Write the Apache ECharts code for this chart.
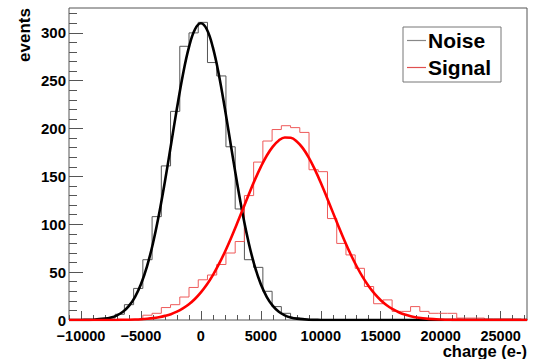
<!DOCTYPE html>
<html><head><meta charset="utf-8">
<script src="https://cdn.jsdelivr.net/npm/echarts@6/dist/echarts.min.js"></script>
<style>html,body{margin:0;padding:0;background:#fff}#c{width:533px;height:359px}</style>
</head><body><div id="c"></div>
<script>
// Histogram binning (bin left edge = binStart + i*binWidth)
const binStart = -11000;
const binWidth = 770;
const noiseCounts = [0,0,0,1,2,6,16,33,63,108,161,218,286,300,311,269,255,181,116,63,55,30,14,7,2,1,0,0,0,0,0,0,0,0,0,0,0,0,0,0,0,0,0,0,0,0,0,0,0,0];
const signalCounts = [0,0,0,0,0,0,0,0,5,7,13,16,24,34,42,47,58,70,82,130,165,187,199,203,201,196,157,155,106,80,68,54,35,17,21,9,9,14,9,7,7,7,2,2,2,1,1,1,1,0];
// Gaussian fit curves
const noiseFitX = [-11000,-10000,-9000,-8000,-7500,-7000,-6500,-6000,-5500,-5000,-4500,-4000,-3500,-3000,-2500,-2000,-1500,-1000,-500,0,500,1000,1500,2000,2500,3000,3500,4000,4500,5000,5500,6000,6500,7000,7500,8000,9000,10000,11000,27200];
const noiseFitY = [0,0.06,0.33,1.4,2.6,4.9,8.6,14.7,24.0,37.3,55.8,80.0,109.9,144.7,182.6,220.9,256.3,284.8,303.5,310,303.5,284.8,256.3,220.9,182.6,144.7,109.9,80.0,55.8,37.3,24.0,14.7,8.6,4.9,2.6,1.4,0.33,0.06,0,0];
const signalFitX = [-11000,-9000,-8000,-7000,-6000,-5500,-5000,-4500,-4000,-3500,-3000,-2500,-2000,-1500,-1000,-500,0,500,1000,1500,2000,2500,3000,3500,4000,4500,5000,5500,6000,6500,7000,7500,8000,8500,9000,9500,10000,10500,11000,11500,12000,12500,13000,13500,14000,14500,15000,15500,16000,16500,17000,17500,18000,19000,20000,21000,22000,23000,27200];
const signalFitY = [0,0,0.04,0.12,0.33,0.53,0.83,1.29,1.95,2.93,4.3,6.1,8.7,12.1,16.4,21.9,28.8,37.0,46.9,58.3,71.1,85.2,100.3,115.8,131.4,146.4,160.0,171.9,181.2,187.6,190.7,190.4,186.6,179.6,169.7,157.4,143.5,128.3,112.7,97.2,82.3,68.4,55.9,44.8,35.3,27.3,20.7,15.4,11.3,8.1,5.7,3.96,2.7,1.2,0.48,0.18,0.06,0,0];
// Axes
const xMin = -11000, xMax = 27200, yMin = 0, yMax = 326;
const xMajorTicks = [-10000,-5000,0,5000,10000,15000,20000,25000];
const yMajorTicks = [0,50,100,150,200,250,300];
const xMinorStep = 1000, yMinorStep = 10;

const xMinorTicks = [];
for (let v = -11000; v <= xMax; v += xMinorStep) if (!xMajorTicks.includes(v)) xMinorTicks.push(v);
const yMinorTicks = [];
for (let v = 0; v <= yMax; v += yMinorStep) if (!yMajorTicks.includes(v)) yMinorTicks.push(v);

function histData(counts) {
  const d = counts.map((c, i) => [binStart + i * binWidth, c]);
  d.push([binStart + counts.length * binWidth, counts[counts.length - 1]]);
  return d;
}
function pairs(xs, ys) { return xs.map((x, i) => [x, ys[i]]); }

const FONT = '"Liberation Sans", Arial, sans-serif';
const fmt = v => (v < 0 ? '\u2212' + Math.abs(v) : String(v));
const noLine = { show: false, onZero: false };

const chart = echarts.init(document.getElementById('c'), null, { renderer: 'svg' });
chart.setOption({
  animation: false,
  backgroundColor: '#fff',
  grid: { left: 69, right: 6, top: 8, bottom: 39, show: true, borderColor: '#555', borderWidth: 1, backgroundColor: 'transparent' },
  xAxis: [
    { type: 'value', min: xMin, max: xMax, position: 'bottom',
      axisLine: noLine, splitLine: { show: false },
      axisTick: { show: true, inside: true, length: 9, customValues: xMajorTicks, lineStyle: { color: '#555' } },
      axisLabel: { customValues: xMajorTicks, formatter: fmt, margin: 8,
        fontFamily: FONT, fontWeight: 'bold', fontSize: 14.5, color: '#000' } },
    { type: 'value', min: xMin, max: xMax, position: 'bottom',
      axisLine: noLine, splitLine: { show: false },
      axisTick: { show: true, inside: true, length: 5, customValues: xMinorTicks, lineStyle: { color: '#555' } },
      axisLabel: { show: false } }
  ],
  yAxis: [
    { type: 'value', min: yMin, max: yMax, position: 'left',
      axisLine: noLine, splitLine: { show: false },
      axisTick: { show: true, inside: true, length: 14, customValues: yMajorTicks, lineStyle: { color: '#555' } },
      axisLabel: { customValues: yMajorTicks, margin: 3,
        fontFamily: FONT, fontWeight: 'bold', fontSize: 15, color: '#000' } },
    { type: 'value', min: yMin, max: yMax, position: 'left',
      axisLine: noLine, splitLine: { show: false },
      axisTick: { show: true, inside: true, length: 8, customValues: yMinorTicks, lineStyle: { color: '#555' } },
      axisLabel: { show: false } }
  ],
  legend: {
    data: ['Noise', 'Signal'], orient: 'vertical', left: 403, top: 27,
    padding: [3, 10, 4, 4], itemGap: 6, itemWidth: 19, itemHeight: 1.2, icon: 'rect',
    backgroundColor: '#fff', borderColor: '#777', borderWidth: 1, borderRadius: 0,
    selectedMode: false,
    textStyle: { fontFamily: FONT, fontWeight: 'bold', fontSize: 21, color: '#000', padding: [0, 0, 0, -3] }
  },
  graphic: [
    { type: 'text', x: 24, y: 8, rotation: Math.PI / 2,
      style: { text: 'events', font: 'bold 17px ' + FONT, fill: '#000', align: 'right', verticalAlign: 'middle' } },
    { type: 'text', x: 527, y: 351,
      style: { text: 'charge (e-)', font: 'bold 16.5px ' + FONT, fill: '#000', align: 'right', verticalAlign: 'middle' } }
  ],
  series: [
    { name: 'Noise', type: 'line', step: 'end', data: histData(noiseCounts), symbol: 'none',
      lineStyle: { color: '#555', width: 1 }, itemStyle: { color: '#888' }, z: 2 },
    { name: 'Signal', type: 'line', step: 'end', data: histData(signalCounts), symbol: 'none',
      lineStyle: { color: '#ee5a5a', width: 1 }, itemStyle: { color: '#e05050' }, z: 2 },
    { name: 'Noise fit', type: 'line', data: pairs(noiseFitX, noiseFitY), symbol: 'none', smooth: 0.4,
      lineStyle: { color: '#000', width: 2.6 }, z: 3 },
    { name: 'Signal fit', type: 'line', data: pairs(signalFitX, signalFitY), symbol: 'none', smooth: 0.4,
      lineStyle: { color: '#ff0000', width: 2.6 }, z: 4 }
  ]
});
</script>
</body></html>
